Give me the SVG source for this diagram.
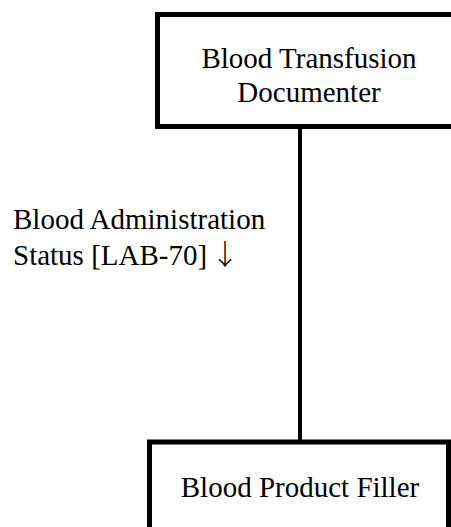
<svg xmlns="http://www.w3.org/2000/svg" width="451" height="527" viewBox="0 0 451 527">
<style>
.box{fill:#fff;stroke:#000;stroke-width:5}
.t{font-family:"Liberation Serif","Times New Roman",serif;font-size:29px;fill:#000}
.c{text-anchor:middle}
.arr{font-family:"Noto Sans CJK JP",sans-serif;font-size:28px;font-weight:300}
.edge{stroke:#000;stroke-width:4;fill:none}
</style>
<rect width="451" height="527" fill="#fff"/>
<g id="connectors">
<line class="edge" x1="300" y1="129" x2="300" y2="440"/>
<text class="t" x="13" y="229">Blood Administration</text>
<text class="t" x="13" y="265">Status [LAB-70]<tspan class="arr" x="211" y="265">↓</tspan></text>
</g>
<g id="node-documenter">
<rect class="box" x="157.5" y="14.5" width="304" height="112"/>
<text class="t c" x="309" y="68">Blood Transfusion</text>
<text class="t c" x="309" y="102">Documenter</text>
</g>
<g id="node-filler">
<rect class="box" x="149.5" y="442" width="299" height="100"/>
<text class="t c" x="300" y="497">Blood Product Filler</text>
</g>
</svg>
